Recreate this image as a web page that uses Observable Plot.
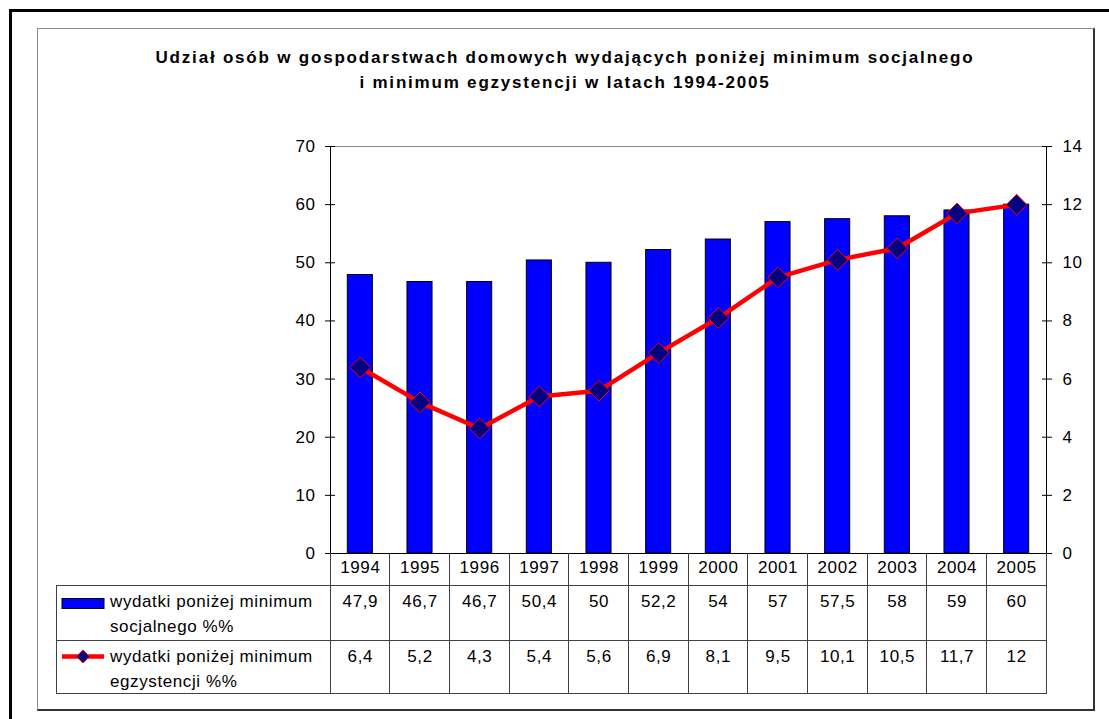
<!DOCTYPE html>
<html>
<head>
<meta charset="utf-8">
<script src="https://cdn.jsdelivr.net/npm/d3@7"></script>
<script src="https://cdn.jsdelivr.net/npm/@observablehq/plot@0.6"></script>
<style>
  html, body { margin: 0; padding: 0; background: #fff; }
  #page { position: relative; width: 1109px; height: 719px; overflow: hidden; background: #fff;
          font-family: "Liberation Sans", Arial, sans-serif; }
  #outer { position: absolute; left: 9px; top: 9px; width: 2000px; height: 2000px;
           border-left: 3px solid #000; border-top: 3px solid #000; }
  #inner { position: absolute; left: 37px; top: 28px; width: 1055px; height: 680px;
           border-left: 1px solid #8a8a8a; border-top: 1px solid #8a8a8a;
           border-right: 2px solid #333; border-bottom: 2px solid #333; }
  #title { position: absolute; left: 0; top: 45px; width: 1130px; text-align: center;
           font-weight: bold; font-size: 17px; line-height: 25px; letter-spacing: 1.8px; color: #000; }
  #chart { position: absolute; left: 0; top: 0; }
  #chart svg text { letter-spacing: 0.6px; }
</style>
</head>
<body>
<div id="page">
  <div id="outer"></div>
  <div id="inner"></div>
  <div id="title"></div>
  <div id="chart"></div>
</div>
<script>
// ---- data ----
const years = [1994, 1995, 1996, 1997, 1998, 1999, 2000, 2001, 2002, 2003, 2004, 2005];
const socjalne = [47.9, 46.7, 46.7, 50.4, 50, 52.2, 54, 57, 57.5, 58, 59, 60];
const egzystencji = [6.4, 5.2, 4.3, 5.4, 5.6, 6.9, 8.1, 9.5, 10.1, 10.5, 11.7, 12];
const leftTicks = [0, 10, 20, 30, 40, 50, 60, 70];
const rightTicks = [0, 2, 4, 6, 8, 10, 12, 14];
const seriesLabels = [
  ["wydatki poniżej minimum", "socjalnego %%"],
  ["wydatki poniżej minimum", "egzystencji %%"]
];
const titleLines = [
  "Udział osób w gospodarstwach domowych wydających poniżej minimum socjalnego",
  "i minimum egzystencji w latach 1994-2005"
];

// ---- setup ----
const RATIO = leftTicks[leftTicks.length - 1] / rightTicks[rightTicks.length - 1]; // 5
const fmt = v => String(v).replace(".", ",");
const data = years.map((y, i) => ({year: String(y), soc: socjalne[i], egz: egzystencji[i]}));

document.getElementById("title").innerHTML = titleLines.join("<br>");

const W = 1109, H = 719;
const FONT = '"Liberation Sans", Arial, sans-serif';

const plot = Plot.plot({
  width: W, height: H,
  marginLeft: 330, marginRight: 63, marginTop: 146, marginBottom: 166,
  style: {fontFamily: FONT, fontSize: "17px", background: "transparent", color: "#000", overflow: "visible"},
  x: {type: "band", domain: years.map(String), paddingInner: 0.58, paddingOuter: 0.29, round: false, axis: null},
  y: {domain: [0, 70], axis: null, label: null},
  marks: [
    Plot.frame({anchor: "top", stroke: "#8a8a8a"}),
    Plot.barY(data, {x: "year", y: "soc", fill: "#0000FF", stroke: "#000", strokeWidth: 1}),
    Plot.axisY(leftTicks, {anchor: "left", label: null, tickSize: 10, dx: 5, tickPadding: 10, tickFormat: d => d, stroke: "#000", strokeOpacity: 1}),
    Plot.axisY(leftTicks, {anchor: "right", label: null, tickSize: 10, dx: -5, tickPadding: 11, tickFormat: (d, i) => rightTicks[i], stroke: "#000", strokeOpacity: 1}),
    Plot.frame({anchor: "left", stroke: "#000"}),
    Plot.frame({anchor: "right", stroke: "#000"}),
    Plot.ruleY([0], {stroke: "#000"}),
    Plot.line(data, {x: "year", y: d => d.egz * RATIO, stroke: "#FF0000", strokeWidth: 4.5}),
    Plot.dot(data, {x: "year", y: d => d.egz * RATIO, symbol: "diamond2", r: 9.3, fill: "#000080", stroke: "#FF0000", strokeWidth: 1}),
    // data table cells
    Plot.text(data, {x: "year", text: "year", frameAnchor: "bottom", dy: 19, fill: "#000"}),
    Plot.text(data, {x: "year", text: d => fmt(d.soc), frameAnchor: "bottom", dy: 53, fill: "#000"}),
    Plot.text(data, {x: "year", text: d => fmt(d.egz), frameAnchor: "bottom", dy: 108, fill: "#000"})
  ]
});
document.getElementById("chart").appendChild(plot);

// ---- table grid and legend keys, positioned with the plot's scales ----
const xs = plot.scale("x");
const ys = plot.scale("y");
const svg = d3.select(plot);
const xL = xs.range[0], xR = xs.range[1];
const n = years.length;
const colW = (xR - xL) / n;
const y0 = ys.apply(0);
const rowY = [y0, y0 + 32.5, y0 + 87.5, y0 + 140.5];
const tableLeft = 56;
const g = svg.append("g").attr("stroke", "#404040").attr("stroke-width", 1).attr("shape-rendering", "crispEdges");
// horizontal lines
[rowY[1], rowY[2], rowY[3]].forEach(yy =>
  g.append("line").attr("x1", tableLeft).attr("x2", xR).attr("y1", yy).attr("y2", yy));
// column lines
for (let i = 0; i <= n; i++) {
  const xx = xL + i * colW;
  g.append("line").attr("x1", xx).attr("x2", xx).attr("y1", y0).attr("y2", rowY[3]);
}
g.append("line").attr("x1", tableLeft).attr("x2", tableLeft).attr("y1", rowY[1]).attr("y2", rowY[3]);

// legend text
const lg = svg.append("g").attr("font-family", FONT).attr("font-size", 17).attr("fill", "#000")
  .attr("text-anchor", "start").style("letter-spacing", "0.9px");
seriesLabels.forEach((lines, k) => {
  const top = rowY[k + 1];
  lines.forEach((t, j) => lg.append("text").attr("x", 110).attr("y", top + 21 + j * 25).text(t));
});
// legend keys
const r1 = rowY[1];
svg.append("rect").attr("x", 62).attr("y", r1 + 13).attr("width", 42).attr("height", 10)
  .attr("fill", "#0000FF").attr("stroke", "#000").attr("stroke-width", 1);
const r2 = rowY[2];
svg.append("line").attr("x1", 62).attr("x2", 104).attr("y1", r2 + 16).attr("y2", r2 + 16)
  .attr("stroke", "#FF0000").attr("stroke-width", 4.5);
svg.append("path").attr("transform", `translate(83,${r2 + 16})`)
  .attr("d", d3.symbol(d3.symbolDiamond2, 110)())
  .attr("fill", "#000080").attr("stroke", "#FF0000").attr("stroke-width", 1);
</script>
</body>
</html>
